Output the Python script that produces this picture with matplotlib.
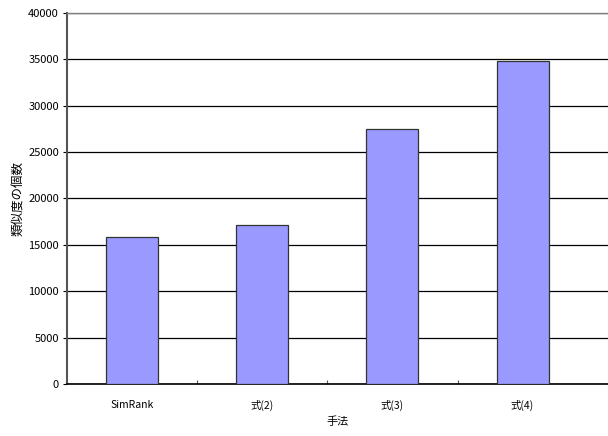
import matplotlib
matplotlib.use("Agg")
import matplotlib.pyplot as plt
import numpy as np

plt.rcParams['font.family'] = ['Noto Sans CJK JP', 'DejaVu Sans']

categories = ["SimRank", "式(2)", "式(3)", "式(4)"]
values = [15900, 17150, 27450, 34770]
y_ticks = [0, 5000, 10000, 15000, 20000, 25000, 30000, 35000, 40000]

fig = plt.figure(figsize=(6.08, 4.36), dpi=100)
ax = fig.add_axes([67.3/608, (436-384.3)/436, 1 - 67.3/608, (384.3-12.7)/436])

x = np.arange(len(categories))
ax.bar(x, values, width=0.4, color="#9999FF", edgecolor="#333333", linewidth=0.9, zorder=3)

ax.set_ylim(0, 40000)
ax.set_xlim(-0.5, 3.657)
ax.set_yticks(y_ticks)
ax.set_yticklabels([str(v) for v in y_ticks], fontsize=8)
ax.yaxis.grid(True, color="black", linewidth=0.9, zorder=0)
ax.set_axisbelow(True)

ax.set_xticks(x)
ax.set_xticklabels(categories, fontsize=7.5)
ax.tick_params(axis='x', length=0, pad=11)
ax.set_xticks([0.5, 1.5, 2.5], minor=True)
ax.tick_params(axis='x', which='minor', direction='in', length=3, width=0.8, color='#555555')
ax.tick_params(axis='y', direction='out', length=3, width=0.8, pad=3)

ax.spines['right'].set_visible(False)
ax.spines['top'].set_color('#808080')
ax.spines['top'].set_linewidth(1.0)
ax.spines['left'].set_color('#555555')
ax.spines['left'].set_linewidth(1.5)
ax.spines['bottom'].set_color('black')
ax.spines['bottom'].set_linewidth(1.2)

ax.set_ylabel("類似度の個数", fontsize=9, labelpad=2)
ax.set_xlabel("手法", fontsize=8, labelpad=4)

fig.savefig("out.png", dpi=100)
